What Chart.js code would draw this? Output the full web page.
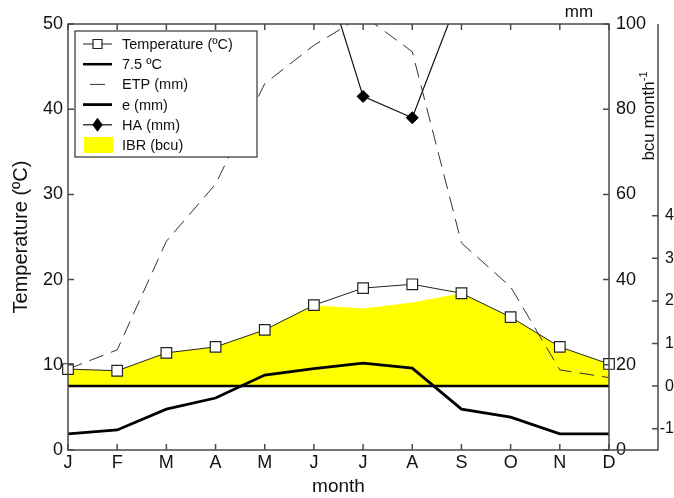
<!DOCTYPE html>
<html><head><meta charset="utf-8">
<script src="https://cdn.jsdelivr.net/npm/chart.js@4.4.1/dist/chart.umd.min.js"></script>
<style>html,body{margin:0;padding:0;background:#fff}#wrap{width:674px;height:498px;position:relative}</style>
</head><body><div id="wrap"><canvas id="c" width="674" height="498"></canvas></div>
<script>
const months = ['J','F','M','A','M','J','J','A','S','O','N','D'];
const temperature = [9.5, 9.3, 11.4, 12.1, 14.1, 17.0, 19.0, 19.45, 18.4, 15.6, 12.1, 10.1];
const threshold = [7.5, 7.5, 7.5, 7.5, 7.5, 7.5, 7.5, 7.5, 7.5, 7.5, 7.5, 7.5];
const etp = [19, 23.5, 49, 62.4, 86, 95, 102, 93.5, 48.6, 38.3, 18.8, 17];
const evap = [3.8, 4.7, 9.6, 12.2, 17.6, 19.1, 20.4, 19.2, 9.6, 7.7, 3.8, 3.8];
const ha = [null, null, null, null, null, 120, 83, 78, 108, null, null, null];
const ibr = [0.40, 0.36, 0.78, 0.92, 1.32, 1.90, 1.82, 1.96, 2.18, 1.62, 0.92, 0.52];
const tempTicks = [0, 10, 20, 30, 40, 50];
const mmTicks = [0, 20, 40, 60, 80, 100];
const bcuTicks = [-1, 0, 1, 2, 3, 4];

const FONT = '"Liberation Sans", Arial, sans-serif';
const TXT = '#111';
const AX = '#4a4a4a';

const decor = {
  id: 'decor',
  afterDatasetsDraw(chart) {
    const {ctx, chartArea: a, scales} = chart;
    const x = scales.x, yT = scales.y, yM = scales.yMm, yB = scales.yBcu;
    ctx.save();
    ctx.strokeStyle = AX; ctx.lineWidth = 1.5;
    ctx.beginPath();
    ctx.rect(a.left, a.top, a.right - a.left, a.bottom - a.top);
    ctx.moveTo(yB.left, a.top); ctx.lineTo(yB.left, a.bottom); ctx.lineTo(a.right, a.bottom);
    ctx.stroke();
    const TL = 6;
    ctx.beginPath();
    months.forEach((m, i) => {
      const px = x.getPixelForValue(i);
      ctx.moveTo(px, a.bottom); ctx.lineTo(px, a.bottom - TL);
      ctx.moveTo(px, a.top); ctx.lineTo(px, a.top + TL);
    });
    tempTicks.forEach(v => { const py = yT.getPixelForValue(v); ctx.moveTo(a.left, py); ctx.lineTo(a.left + TL, py); });
    mmTicks.forEach(v => { const py = yM.getPixelForValue(v); ctx.moveTo(a.right, py); ctx.lineTo(a.right - TL, py); });
    bcuTicks.forEach(v => { const py = yB.getPixelForValue(v); ctx.moveTo(yB.left, py); ctx.lineTo(yB.left - TL, py); });
    ctx.stroke();

    // legend
    const ds = chart.data.datasets;
    const L = 75, T = 31, R = 257, B = 157;
    ctx.fillStyle = '#fff';
    ctx.fillRect(L, T, R - L, B - T);
    ctx.strokeStyle = '#333'; ctx.lineWidth = 1.2;
    ctx.strokeRect(L, T, R - L, B - T);
    const x0 = 83, x1 = 112, xm = 97.5;
    ds.forEach((d, i) => {
      const yy = 44 + 20.2 * i;
      ctx.save();
      if (d.fill) {
        ctx.fillStyle = d.backgroundColor;
        ctx.fillRect(84, yy - 8, 29, 16);
      } else {
        ctx.strokeStyle = d.borderColor; ctx.lineWidth = d.borderWidth;
        ctx.beginPath();
        if (d.borderDash) { ctx.moveTo(90, yy); ctx.lineTo(105, yy); }
        else { ctx.moveTo(x0, yy); ctx.lineTo(x1, yy); }
        ctx.stroke();
        if (d.pointRadius > 0) {
          ctx.fillStyle = d.pointBackgroundColor; ctx.strokeStyle = d.pointBorderColor; ctx.lineWidth = 1.2;
          ctx.beginPath();
          if (d.pointStyle === 'rect') { ctx.rect(xm - 4.5, yy - 4.5, 9, 9); }
          else { ctx.moveTo(xm, yy - 6); ctx.lineTo(xm + 4.5, yy); ctx.lineTo(xm, yy + 6); ctx.lineTo(xm - 4.5, yy); ctx.closePath(); }
          ctx.fill(); ctx.stroke();
        }
      }
      ctx.restore();
      ctx.fillStyle = TXT; ctx.font = '14.5px ' + FONT; ctx.textAlign = 'left'; ctx.textBaseline = 'middle';
      ctx.fillText(d.label, 122, yy + 1);
    });

    // titles
    ctx.fillStyle = TXT;
    ctx.textAlign = 'center'; ctx.textBaseline = 'middle';
    ctx.font = '19px ' + FONT;
    ctx.fillText('month', (a.left + a.right) / 2, 487);
    ctx.save();
    ctx.translate(21, (a.top + a.bottom) / 2);
    ctx.rotate(-Math.PI / 2);
    ctx.font = '20px ' + FONT;
    ctx.fillText('Temperature (ºC)', 0, 0);
    ctx.restore();
    ctx.font = '17px ' + FONT;
    ctx.fillText('mm', 579, 12);
    ctx.save();
    ctx.translate(648, 116);
    ctx.rotate(-Math.PI / 2);
    const main = 'bcu month';
    ctx.font = '11px ' + FONT;
    const supW = ctx.measureText('-1').width;
    ctx.font = '17px ' + FONT;
    const mw = ctx.measureText(main).width;
    const tot = mw + supW;
    ctx.textAlign = 'left'; ctx.textBaseline = 'alphabetic';
    ctx.fillText(main, -tot / 2, 6);
    ctx.font = '11px ' + FONT;
    ctx.fillText('-1', -tot / 2 + mw, -1);
    ctx.restore();
    ctx.restore();
  }
};

new Chart(document.getElementById('c'), {
  type: 'line',
  data: {
    labels: months,
    datasets: [
      { label: 'Temperature (ºC)', data: temperature, yAxisID: 'y', borderColor: '#222', borderWidth: 1,
        pointStyle: 'rect', pointRadius: 7.5, pointBackgroundColor: '#fff', pointBorderColor: '#222', pointBorderWidth: 1.2, order: 1 },
      { label: '7.5 ºC', data: threshold, yAxisID: 'y', borderColor: '#000', borderWidth: 2.5, pointRadius: 0, order: 5 },
      { label: 'ETP (mm)', data: etp, yAxisID: 'yMm', borderColor: '#333', borderWidth: 1, borderDash: [15, 8], pointRadius: 0, order: 3 },
      { label: 'e (mm)', data: evap, yAxisID: 'yMm', borderColor: '#000', borderWidth: 2.8, pointRadius: 0, order: 4 },
      { label: 'HA (mm)', data: ha, yAxisID: 'yMm', borderColor: '#111', borderWidth: 1.2,
        pointStyle: 'rectRot', pointRadius: 6, pointBackgroundColor: '#000', pointBorderColor: '#000', pointBorderWidth: 1, order: 2 },
      { label: 'IBR (bcu)', data: ibr, yAxisID: 'yBcu', borderColor: 'rgba(0,0,0,0)', borderWidth: 0,
        backgroundColor: '#ffff00', fill: 'origin', pointRadius: 0, order: 10 }
    ]
  },
  options: {
    responsive: false, animation: false, devicePixelRatio: 1,
    layout: { padding: { top: 24, left: 0, right: 0, bottom: 0 } },
    plugins: { legend: { display: false }, tooltip: { enabled: false } },
    elements: { line: { tension: 0 } },
    scales: {
      x: { type: 'category', offset: false,
        grid: { display: false, drawTicks: false }, border: { display: false },
        ticks: { autoSkip: false, maxRotation: 0, padding: 2, color: TXT, font: { family: FONT, size: 18 } },
        afterFit(s) { s.height = 48; } },
      y: { position: 'left', min: 0, max: 50,
        grid: { display: false, drawTicks: false }, border: { display: false },
        afterBuildTicks(s) { s.ticks = tempTicks.map(v => ({ value: v })); },
        ticks: { padding: 5, color: TXT, font: { family: FONT, size: 18 } },
        afterFit(s) { s.width = 68; } },
      yMm: { position: 'right', weight: 1, min: 0, max: 100,
        grid: { display: false, drawTicks: false }, border: { display: false },
        afterBuildTicks(s) { s.ticks = mmTicks.map(v => ({ value: v })); },
        ticks: { padding: 7, color: TXT, font: { family: FONT, size: 18 } },
        afterFit(s) { s.width = 49; } },
      yBcu: { position: 'right', weight: 2, min: -1.5, max: 8.5,
        grid: { display: false, drawTicks: false }, border: { display: false },
        afterBuildTicks(s) { s.ticks = bcuTicks.map(v => ({ value: v })); },
        ticks: { padding: 1, crossAlign: 'far', color: TXT, font: { family: FONT, size: 16 } },
        afterFit(s) { s.width = 16; } }
    }
  },
  plugins: [decor]
});
</script></body></html>
